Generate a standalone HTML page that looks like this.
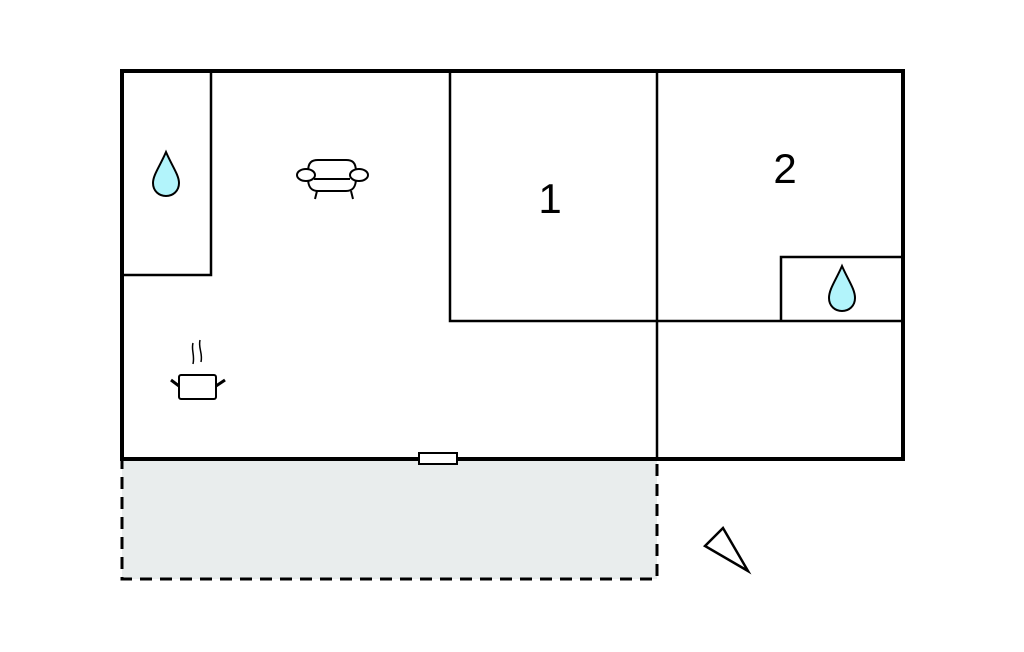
<!DOCTYPE html>
<html><head><style>html,body{margin:0;padding:0;background:#fff;width:1024px;height:652px;overflow:hidden}</style></head>
<body>
<svg width="1024" height="652" viewBox="0 0 1024 652" xmlns="http://www.w3.org/2000/svg">
<rect x="122" y="459" width="535" height="120" fill="#e9eded" stroke="#000" stroke-width="3" stroke-dasharray="12,8"/>
<rect x="122" y="71" width="781" height="388" fill="none" stroke="#000" stroke-width="4"/>
<g fill="none" stroke="#000" stroke-width="2.5">
<polyline points="211,71 211,275 122,275"/>
<polyline points="450,71 450,321 657,321"/>
<line x1="657" y1="71" x2="657" y2="459"/>
<line x1="657" y1="321" x2="903" y2="321"/>
<polyline points="781,321 781,257 901,257"/>
</g>
<rect x="419" y="453" width="38" height="11" fill="#fff" stroke="#000" stroke-width="2"/>
<polygon points="705,546 723,528 748,571" fill="#fff" stroke="#000" stroke-width="2.5"/>
<path d="M166,152 C160,166 153,175 153,183 C153,191 159,196 166,196 C173,196 179,191 179,183 C179,175 172,166 166,152 Z" fill="#b2f4fb" stroke="#000" stroke-width="2"/>
<path d="M842,266 C836,280 829,289 829,298 C829,306 835,311 842,311 C849,311 855,306 855,298 C855,289 848,280 842,266 Z" fill="#b2f4fb" stroke="#000" stroke-width="2"/>
<g fill="#fff" stroke="#000" stroke-width="2">
<path d="M308,172 C308,162 312,160 318,160 L346,160 C352,160 356,162 356,172"/>
<path d="M308,178 C308,188 312,191 318,191 L346,191 C352,191 356,188 356,178"/>
<line x1="314" y1="179" x2="350" y2="179"/>
<ellipse cx="306" cy="175" rx="9" ry="6"/>
<ellipse cx="359" cy="175" rx="9" ry="6"/>
<line x1="317" y1="191" x2="315" y2="199"/>
<line x1="351" y1="191" x2="353" y2="199"/>
</g>
<g fill="none" stroke="#000" stroke-width="1.5">
<path d="M193,343 C191,350 195,355 193,364"/>
<path d="M200,340 C198,348 203,353 201,362"/>
</g>
<rect x="179" y="375" width="37" height="24" rx="2" fill="#fff" stroke="#000" stroke-width="2"/>
<line x1="171" y1="380" x2="179" y2="386" stroke="#000" stroke-width="3"/>
<line x1="216" y1="386" x2="225" y2="380" stroke="#000" stroke-width="3"/>
<text x="550" y="213" font-family="Liberation Sans, sans-serif" font-size="42" text-anchor="middle">1</text>
<text x="785" y="183" font-family="Liberation Sans, sans-serif" font-size="42" text-anchor="middle">2</text>
</svg>
</body></html>
